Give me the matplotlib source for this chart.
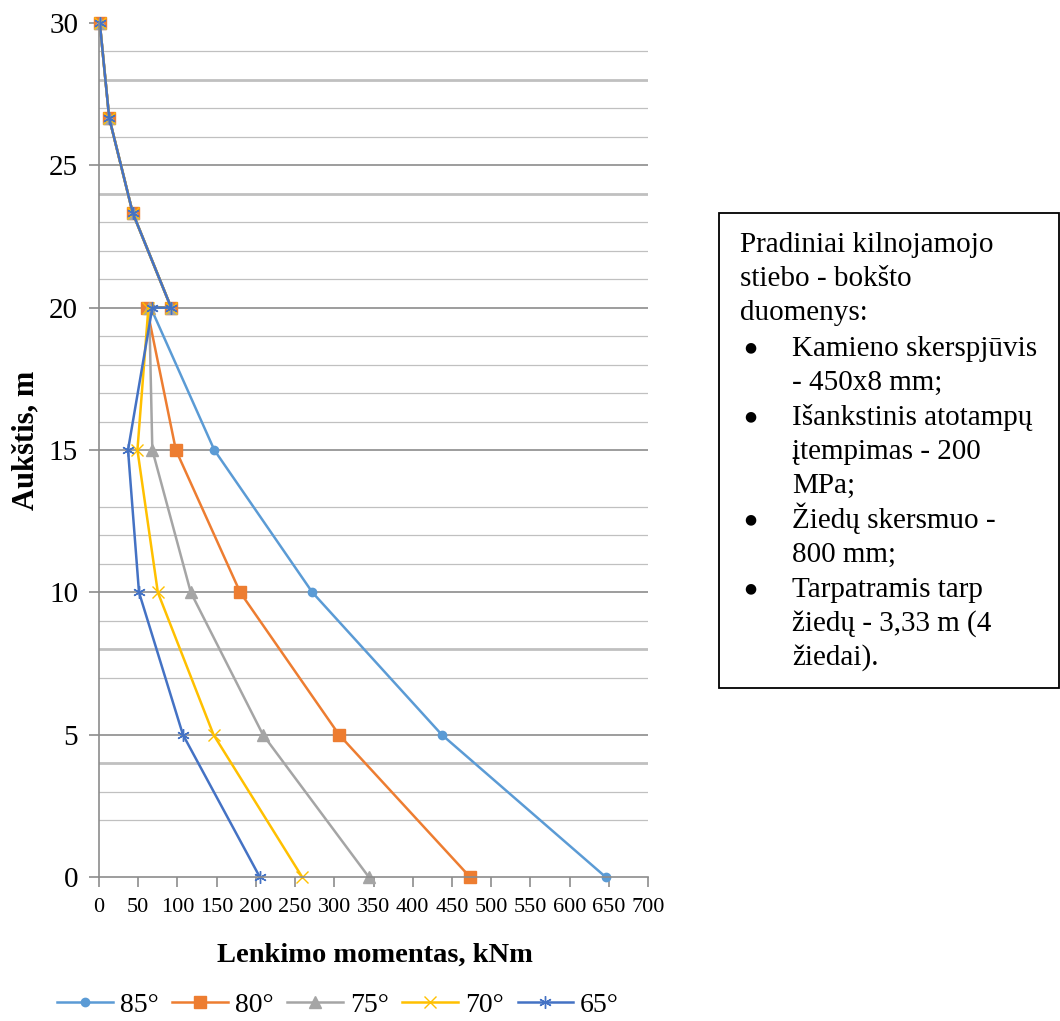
import matplotlib
matplotlib.use('Agg')
import matplotlib.pyplot as plt

plt.rcParams['font.family'] = ['Liberation Serif', 'DejaVu Serif']

# -------- Data: height (m) vs bending moment (kNm) --------
heights = [30, 26.67, 23.33, 20, 20, 15, 10, 5, 0]
m85 = [1, 13, 43, 92, 66, 147, 272, 437, 646]
m80 = [1, 13, 43, 92, 61, 98, 180, 306, 473]
m75 = [1, 13, 43, 92, 64, 68, 117, 209, 344]
m70 = [1, 13, 43, 92, 63, 49, 75, 146, 259]
m65 = [1, 13, 43, 92, 68, 37, 51, 107, 205]
labels = ['85°', '80°', '75°', '70°', '65°']

info_lines = ['Pradiniai kilnojamojo', 'stiebo - bokšto', 'duomenys:',
              'Kamieno skerspjūvis', '- 450x8 mm;',
              'Išankstinis atotampų', 'įtempimas - 200', 'MPa;',
              'Žiedų skersmuo -', '800 mm;',
              'Tarpatramis tarp', 'žiedų - 3,33 m (4', 'žiedai).']
bullet_rows = [3, 5, 8, 10]

W, H = 1060, 1021
fig = plt.figure(figsize=(W / 100, H / 100), dpi=100)
ax = fig.add_axes([99 / W, 1 - 877 / H, 549 / W, 854 / H])

# ------ grid and frame ------
minor_lines = [2, 3, 4, 7, 8, 9, 11, 12, 13, 16, 17, 18, 19, 21, 22, 23, 24, 26, 27, 28, 29]
for yv in minor_lines:
    lw = 2.0 if yv in (4, 8, 24, 28) else 0.9
    ax.axhline(yv, color='#c0c0c0', lw=lw, zorder=0)
for yv in [5, 10, 15, 20, 25]:
    ax.axhline(yv, color='#8c8c8c', lw=1.2, zorder=0)

for s in ['top', 'right']:
    ax.spines[s].set_visible(False)
for s in ['left', 'bottom']:
    ax.spines[s].set_color('#8c8c8c')
    ax.spines[s].set_linewidth(1.2)

ax.set_xlim(0, 700)
ax.set_ylim(0, 30)
ax.set_xticks(range(0, 701, 50))
ax.set_yticks(range(0, 31, 5))
ax.tick_params(axis='x', labelsize=16, length=7, color='#8c8c8c', width=1.2, pad=8)
ax.tick_params(axis='y', labelsize=21, length=7, color='#8c8c8c', width=1.2, pad=8)

# ------- series -------
ax.plot(m85, heights, color='#5B9BD5', lw=1.8, marker='o', ms=6, clip_on=False, label=labels[0])
ax.plot(m80, heights, color='#ED7D31', lw=1.8, marker='s', ms=9, clip_on=False, label=labels[1])
ax.plot(m75, heights, color='#A5A5A5', lw=1.8, marker='^', ms=8, clip_on=False, label=labels[2])
ax.plot(m70, heights, color='#FFC000', lw=1.8, marker='x', ms=8, mew=1.0, clip_on=False, label=labels[3])
ax.plot(m65, heights, color='#4472C4', lw=1.8, marker=(6, 2, 0), ms=9, mew=1.0, clip_on=False, label=labels[4])

# ------ axis titles ------
fig.text(26 / W, 1 - 440 / H, 'Aukštis, m', rotation=90, fontsize=22, fontweight='bold',
         ha='center', va='center')
fig.text(375 / W, 1 - 955 / H, 'Lenkimo momentas, kNm', fontsize=20.5, fontweight='bold',
         ha='center', va='center')

# ---- legend ----
fig.legend(loc='center', bbox_to_anchor=(338 / W, 1 - 1005 / H), ncol=5, frameon=False,
           fontsize=20, handlelength=2.0, columnspacing=0.5, handletextpad=0.25)

# ---- info box ----
box = plt.Rectangle((719 / W, 1 - 688 / H), 340 / W, 475 / H, transform=fig.transFigure,
                    fill=False, edgecolor='black', lw=1.3)
fig.add_artist(box)
baselines = [252, 286, 320, 356, 390, 425, 459, 493, 528, 562, 597, 631, 665]
for i, (txt, yb) in enumerate(zip(info_lines, baselines)):
    xpos = 740 if i < 3 else 792
    fig.text(xpos / W, 1 - yb / H, txt, fontsize=21, ha='left', va='baseline')
    if i in bullet_rows:
        fig.text(750 / W, 1 - (yb - 9) / H, '●', fontsize=10, ha='center', va='center',
                 family=['DejaVu Sans'])

fig.savefig('out.png', dpi=100)
